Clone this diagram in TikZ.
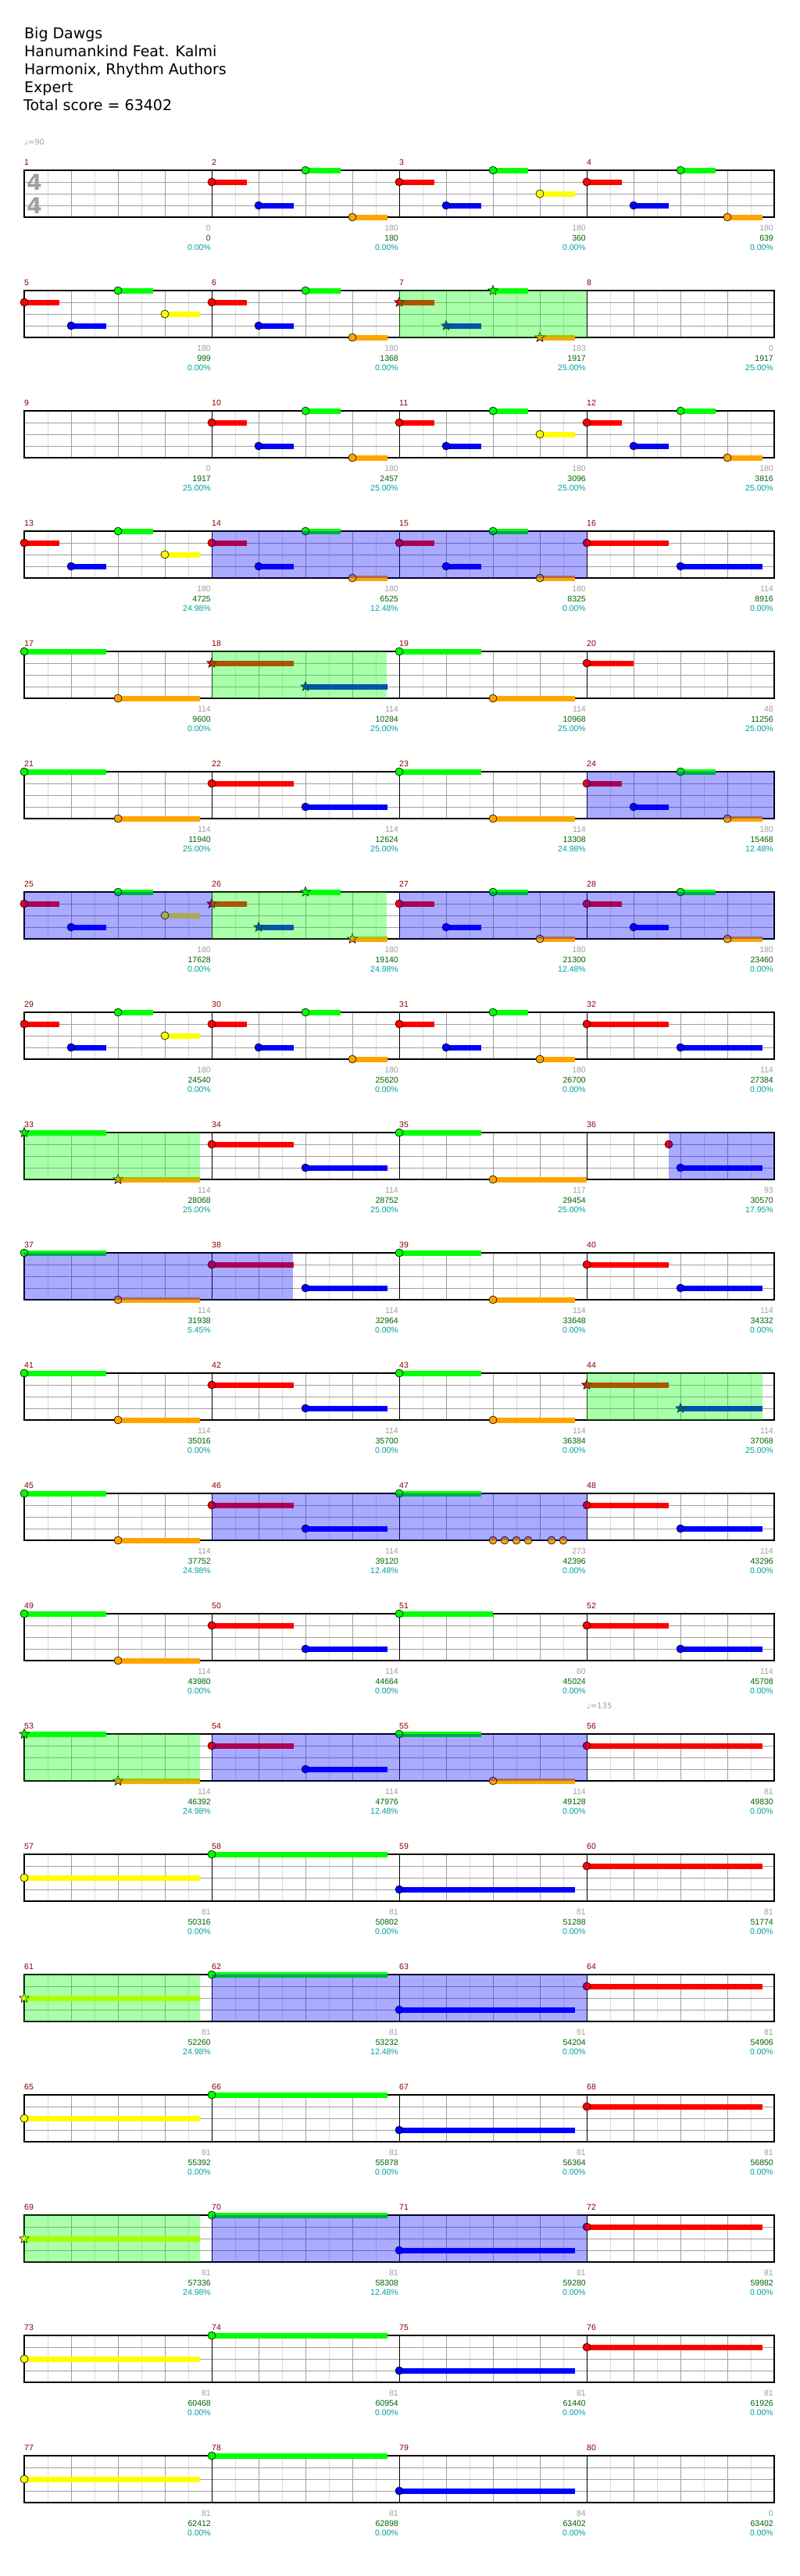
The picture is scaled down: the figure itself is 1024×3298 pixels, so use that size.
\documentclass[tikz,border=0pt]{standalone}
\usepackage{fontspec}
\setmainfont{DejaVu Sans}
\newfontfamily\smallfont{Liberation Sans}
\usetikzlibrary{shapes.geometric}

\begin{document}
\begin{tikzpicture}[x=1pt, y=-1pt,
  lbl/.style={inner sep=0, anchor=base east, font=\smallfont\fontsize{10.5}{12}\selectfont},
  barlbl/.style={inner sep=0, anchor=base west, text=barnum, font=\smallfont\fontsize{10.5}{12}\selectfont},
  headline/.style={inner sep=0, anchor=base west, font=\fontsize{19}{23}\selectfont},
  tempo/.style={inner sep=0, anchor=base west, text=basescore, font=\fontsize{10}{12}\selectfont},
  notecircle/.style={draw=black, line width=0.6},
  starnote/.style={star, star points=5, star point ratio=2.3, minimum size=13, inner sep=0, draw=black, line width=0.6}]

% === Colors ===
\definecolor{lane0}{RGB}{0,255,0}
\definecolor{lane1}{RGB}{255,0,0}
\definecolor{lane2}{RGB}{255,255,0}
\definecolor{lane3}{RGB}{0,0,255}
\definecolor{lane4}{RGB}{255,165,0}
\definecolor{gridlight}{RGB}{220,220,220}
\definecolor{gridbeat}{RGB}{160,160,160}
\definecolor{barnum}{RGB}{139,0,0}
\definecolor{basescore}{RGB}{160,160,160}
\definecolor{totscore}{RGB}{0,100,0}
\definecolor{sppct}{RGB}{0,160,160}
\definecolor{spgreen}{RGB}{0,255,0}
\definecolor{spblue}{RGB}{0,0,255}

\useasboundingbox[fill=white] (0,0) rectangle (1024,3298);

% === Header ===
\node[headline] (song) at (31,49) {Big Dawgs};
\node[headline] (artist) at (31,72) {Hanumankind Feat. Kalmi};
\node[headline] (charter) at (31,95) {Harmonix, Rhythm Authors};
\node[headline] (diff) at (31,118) {Expert};
\node[headline] (score) at (30,141) {Total score = 63402};
\node[tempo] (bpm1) at (31,185) {♩=90};
\node[tempo] (bpm2) at (751,2187) {♩=135};

% === Staves ===
\foreach \r in {0,...,19}{
  \begin{scope}[shift={(0,154*\r)}]
    \foreach \k in {1,...,31} \draw[gridlight] (31+30*\k,218) -- (31+30*\k,278);
    \foreach \k in {1,...,15} \draw[gridbeat] (31+60*\k,218) -- (31+60*\k,278);
    \foreach \l in {1,2,3} \draw[gridbeat] (31,218+15*\l) -- (991,218+15*\l);
    \foreach \k in {1,2,3} \draw[black] (31+240*\k,218) -- (31+240*\k,278);
    \draw[black, line width=1.2] (31,218) rectangle (991,278);
  \end{scope}
}

% === Time signature ===
\node[text=basescore, font=\bfseries\fontsize{28}{28}\selectfont, inner sep=0] (ts1) at (44,233) {4};
\node[text=basescore, font=\bfseries\fontsize{28}{28}\selectfont, inner sep=0] (ts2) at (44,263) {4};

% === Bar numbers and scores ===
\foreach \m/\sa/\sb/\sc in {
  1/0/0/0.00, 2/180/180/0.00, 3/180/360/0.00, 4/180/639/0.00,
  5/180/999/0.00, 6/180/1368/0.00, 7/183/1917/25.00, 8/0/1917/25.00,
  9/0/1917/25.00, 10/180/2457/25.00, 11/180/3096/25.00, 12/180/3816/25.00,
  13/180/4725/24.98, 14/180/6525/12.48, 15/180/8325/0.00, 16/114/8916/0.00,
  17/114/9600/0.00, 18/114/10284/25.00, 19/114/10968/25.00, 20/48/11256/25.00,
  21/114/11940/25.00, 22/114/12624/25.00, 23/114/13308/24.98, 24/180/15468/12.48,
  25/180/17628/0.00, 26/180/19140/24.98, 27/180/21300/12.48, 28/180/23460/0.00,
  29/180/24540/0.00, 30/180/25620/0.00, 31/180/26700/0.00, 32/114/27384/0.00,
  33/114/28068/25.00, 34/114/28752/25.00, 35/117/29454/25.00, 36/93/30570/17.95,
  37/114/31938/5.45, 38/114/32964/0.00, 39/114/33648/0.00, 40/114/34332/0.00,
  41/114/35016/0.00, 42/114/35700/0.00, 43/114/36384/0.00, 44/114/37068/25.00,
  45/114/37752/24.98, 46/114/39120/12.48, 47/273/42396/0.00, 48/114/43296/0.00,
  49/114/43980/0.00, 50/114/44664/0.00, 51/60/45024/0.00, 52/114/45708/0.00,
  53/114/46392/24.98, 54/114/47976/12.48, 55/114/49128/0.00, 56/81/49830/0.00,
  57/81/50316/0.00, 58/81/50802/0.00, 59/81/51288/0.00, 60/81/51774/0.00,
  61/81/52260/24.98, 62/81/53232/12.48, 63/81/54204/0.00, 64/81/54906/0.00,
  65/81/55392/0.00, 66/81/55878/0.00, 67/81/56364/0.00, 68/81/56850/0.00,
  69/81/57336/24.98, 70/81/58308/12.48, 71/81/59280/0.00, 72/81/59982/0.00,
  73/81/60468/0.00, 74/81/60954/0.00, 75/81/61440/0.00, 76/81/61926/0.00,
  77/81/62412/0.00, 78/81/62898/0.00, 79/84/63402/0.00, 80/0/63402/0.00}{
  \pgfmathtruncatemacro{\mrow}{(\m-1)/4}
  \pgfmathtruncatemacro{\mcol}{\m-1-4*\mrow}
  \node[barlbl] (bar\m) at (31+240*\mcol,211+154*\mrow) {\m};
  \node[lbl, text=basescore] (base\m) at (270+240*\mcol,295+154*\mrow) {\sa};
  \node[lbl, text=totscore] (tot\m) at (270+240*\mcol,308+154*\mrow) {\sb};
  \node[lbl, text=sppct] (pct\m) at (270+240*\mcol,320+154*\mrow) {\sc\%};
}

% === Notes (bar/beat/lane/sustain) ===
\foreach \m/\b/\l/\s in {
  2/0/1/45, 2/1/3/45, 2/2/0/45, 2/3/4/45,
  3/0/1/45, 3/1/3/45, 3/2/0/45, 3/3/2/45,
  4/0/1/45, 4/1/3/45, 4/2/0/45, 4/3/4/45,
  5/0/1/45, 5/1/3/45, 5/2/0/45, 5/3/2/45,
  6/0/1/45, 6/1/3/45, 6/2/0/45, 6/3/4/45,
  10/0/1/45, 10/1/3/45, 10/2/0/45, 10/3/4/45,
  11/0/1/45, 11/1/3/45, 11/2/0/45, 11/3/2/45,
  12/0/1/45, 12/1/3/45, 12/2/0/45, 12/3/4/45,
  13/0/1/45, 13/1/3/45, 13/2/0/45, 13/3/2/45,
  14/0/1/45, 14/1/3/45, 14/2/0/45, 14/3/4/45,
  15/0/1/45, 15/1/3/45, 15/2/0/45, 15/3/4/45,
  16/0/1/105, 16/2/3/105,
  17/0/0/105, 17/2/4/105,
  19/0/0/105, 19/2/4/105,
  20/0/1/60,
  21/0/0/105, 21/2/4/105,
  22/0/1/105, 22/2/3/105,
  23/0/0/105, 23/2/4/105,
  24/0/1/45, 24/1/3/45, 24/2/0/45, 24/3/4/45,
  25/0/1/45, 25/1/3/45, 25/2/0/45, 25/3/2/45,
  27/0/1/45, 27/1/3/45, 27/2/0/45, 27/3/4/45,
  28/0/1/45, 28/1/3/45, 28/2/0/45, 28/3/4/45,
  29/0/1/45, 29/1/3/45, 29/2/0/45, 29/3/2/45,
  30/0/1/45, 30/1/3/45, 30/2/0/45, 30/3/4/45,
  31/0/1/45, 31/1/3/45, 31/2/0/45, 31/3/4/45,
  32/0/1/105, 32/2/3/105,
  34/0/1/105, 34/2/3/105,
  35/0/0/105, 35/2/4/120,
  36/1.75/1/0, 36/2/3/105,
  37/0/0/105, 37/2/4/105,
  38/0/1/105, 38/2/3/105,
  39/0/0/105, 39/2/4/105,
  40/0/1/105, 40/2/3/105,
  41/0/0/105, 41/2/4/105,
  42/0/1/105, 42/2/3/105,
  43/0/0/105, 43/2/4/105,
  45/0/0/105, 45/2/4/105,
  46/0/1/105, 46/2/3/105,
  47/0/0/105, 47/2/4/0, 47/2.25/4/0, 47/2.5/4/0, 47/2.75/4/0, 47/3.25/4/0, 47/3.5/4/0,
  48/0/1/105, 48/2/3/105,
  49/0/0/105, 49/2/4/105,
  50/0/1/105, 50/2/3/105,
  51/0/0/120,
  52/0/1/105, 52/2/3/105,
  54/0/1/105, 54/2/3/105,
  55/0/0/105, 55/2/4/105,
  56/0/1/225,
  57/0/2/225, 58/0/0/225, 59/0/3/225, 60/0/1/225,
  62/0/0/225, 63/0/3/225, 64/0/1/225,
  65/0/2/225, 66/0/0/225, 67/0/3/225, 68/0/1/225,
  70/0/0/225, 71/0/3/225, 72/0/1/225,
  73/0/2/225, 74/0/0/225, 75/0/3/225, 76/0/1/225,
  77/0/2/225, 78/0/0/225, 79/0/3/225}{
  \pgfmathtruncatemacro{\mrow}{(\m-1)/4}
  \pgfmathtruncatemacro{\mcol}{\m-1-4*\mrow}
  \coordinate (n) at (31+240*\mcol+60*\b,218+154*\mrow+15*\l);
  \fill[lane\l] (n) ++(0,-3.5) rectangle ++(\s,7);
  \draw[notecircle, fill=lane\l] (n) circle (5);
}

% === Star notes ===
\foreach \m/\b/\l/\s in {
  7/0/1/45, 7/1/3/45, 7/2/0/45, 7/3/4/45,
  18/0/1/105, 18/2/3/105,
  26/0/1/45, 26/1/3/45, 26/2/0/45, 26/3/4/45,
  33/0/0/105, 33/2/4/105,
  44/0/1/105, 44/2/3/105,
  53/0/0/105, 53/2/4/105,
  61/0/2/225, 69/0/2/225}{
  \pgfmathtruncatemacro{\mrow}{(\m-1)/4}
  \pgfmathtruncatemacro{\mcol}{\m-1-4*\mrow}
  \coordinate (n) at (31+240*\mcol+60*\b,218+154*\mrow+15*\l);
  \fill[lane\l] (n) ++(0,-3.5) rectangle ++(\s,7);
  \node[starnote, fill=lane\l] (star\m-\l) at (n) {};
}

% === Star power phrases and activations ===
\foreach \r/\xa/\xb/\sp in {
  1/511/751/spgreen, 3/271/751/spblue, 4/271/495/spgreen, 5/751/991/spblue,
  6/31/271/spblue, 6/271/495/spgreen, 6/511/991/spblue,
  8/31/256/spgreen, 8/856/991/spblue, 9/31/375/spblue,
  10/751/976/spgreen, 11/271/751/spblue,
  13/31/256/spgreen, 13/271/751/spblue,
  15/31/256/spgreen, 15/271/751/spblue,
  17/31/256/spgreen, 17/271/751/spblue}{
  \fill[fill=\sp, fill opacity=0.3333] (\xa,218+154*\r) rectangle (\xb,278+154*\r);
}

\end{tikzpicture}
\end{document}
